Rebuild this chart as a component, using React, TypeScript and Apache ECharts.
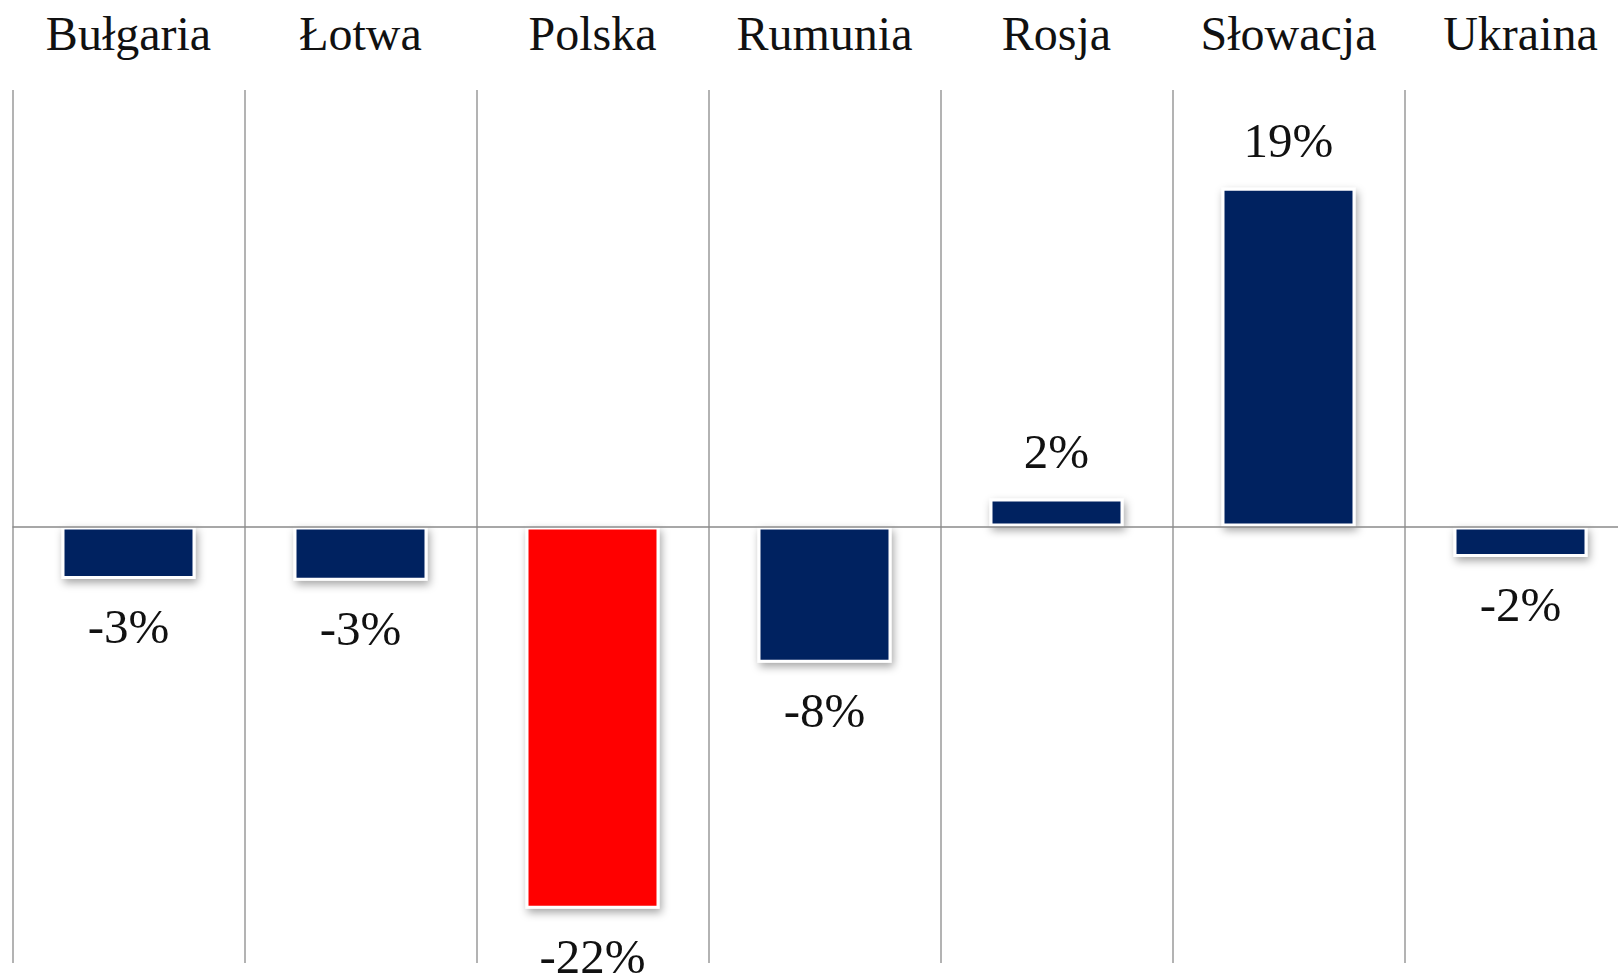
import React, { useEffect, useRef } from "react";
import * as echarts from "echarts";

const categories = ["Bułgaria", "Łotwa", "Polska", "Rumunia", "Rosja", "Słowacja", "Ukraina"];
const values = [-3.0, -3.1, -21.9, -7.8, 1.6, 19.4, -1.75];
const barColors = ["#002060", "#002060", "#FF0000", "#002060", "#002060", "#002060", "#002060"];

export default function App() {
  const ref = useRef<HTMLDivElement>(null);
  useEffect(() => {
    document.body.style.margin = "0";
    if (!ref.current) return;
    const chart = echarts.init(ref.current, null, { renderer: "svg" });
    const font = "'Liberation Serif', 'Times New Roman', serif";
    chart.setOption({
      animation: false,
      backgroundColor: "#ffffff",
      grid: { left: 12.5, right: 3.5, top: 90, bottom: 10, containLabel: false },
      xAxis: {
        type: "category",
        position: "top",
        data: categories,
        axisLine: { show: false },
        axisTick: { show: false },
        axisLabel: { fontFamily: font, fontSize: 48, color: "#111", margin: 33, interval: 0 },
        splitLine: { show: true, interval: 0, lineStyle: { color: "#9a9a9a", width: 1.5 } },
      },
      yAxis: {
        type: "value",
        min: -25,
        max: 25,
        show: false,
        splitLine: { show: false },
      },
      series: [
        {
          type: "bar",
          barWidth: 134,
          data: values.map((v, i) => ({
            value: v,
            itemStyle: { color: barColors[i] },
            label: { position: v >= 0 ? "top" : "bottom" },
          })),
          itemStyle: {
            borderColor: "#ffffff",
            borderWidth: 3,
            shadowBlur: 8,
            shadowOffsetX: 2,
            shadowOffsetY: 4,
            shadowColor: "rgba(0,0,0,0.35)",
          },
          label: {
            show: true,
            fontFamily: font,
            fontSize: 49,
            color: "#111",
            distance: 23,
            formatter: (p: any) => Math.sign(p.value) * Math.round(Math.abs(p.value)) + "%",
          },
          markLine: {
            silent: true,
            symbol: "none",
            label: { show: false },
            lineStyle: { color: "#8a8a8a", width: 1.5, type: "solid" },
            data: [{ yAxis: 0 }],
          },
          z: 3,
        },
      ],
    });
    return () => chart.dispose();
  }, []);
  return (
    <div style={{ width: 1618, height: 973, overflow: "hidden", position: "relative" }}>
      <div ref={ref} style={{ width: 1640, height: 973 }} />
    </div>
  );
}
